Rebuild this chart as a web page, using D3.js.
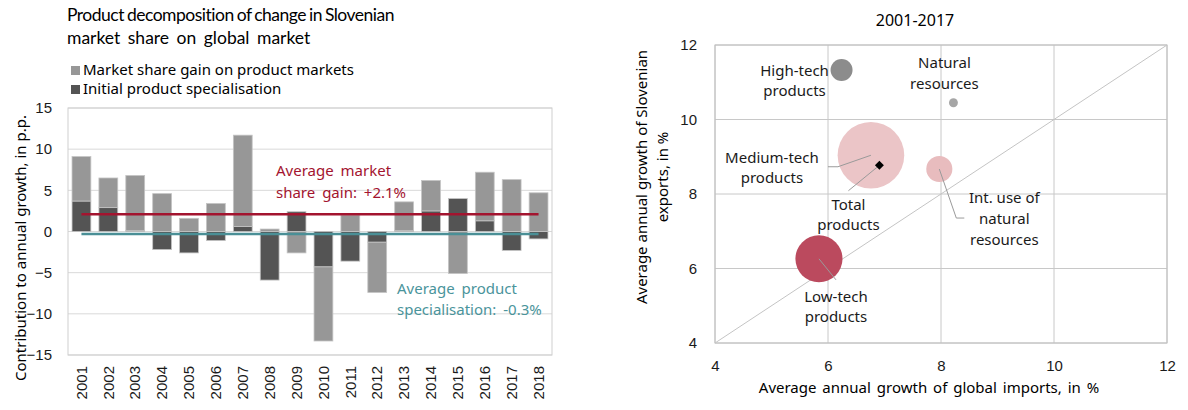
<!DOCTYPE html>
<meta charset="utf-8">
<style>
    body { margin: 0; background: white; }
    svg { display: block; font-family: "Noto Sans", "Open Sans", sans-serif; }
    .tick text { fill: #1a1a1a; }
</style>
<svg width="1188" height="410"></svg>
<script src="https://d3js.org/d3.v7.min.js"></script>
<script>
    // left chart data
    var years = ["2001", "2002", "2003", "2004", "2005", "2006", "2007", "2008", "2009",
        "2010", "2011", "2012", "2013", "2014", "2015", "2016", "2017", "2018"];
    var shareGain = [5.4, 3.6, 6.7, 4.6, 1.6, 3.4, 11.1, 0.3, -2.6, -9.0, 2.0, -6.1, 3.5, 3.7, -5.1, 5.9, 6.3, 4.7];
    var initialSpec = [3.7, 2.9, 0.1, -2.2, -2.6, -1.1, 0.6, -5.9, 2.4, -4.3, -3.6, -1.3, 0.1, 2.5, 4.0, 1.3, -2.3, -0.9];
    var avgGain = 2.1,
        avgSpec = -0.3;
    var leftTicks = [-15, -10, -5, 0, 5, 10, 15];

    // right chart data
    var groups = ["High-tech products", "Natural resources", "Medium-tech products",
        "Int. use of natural resources", "Low-tech products"];
    var importGrowth = [6.24, 8.22, 6.76, 7.97, 5.84];
    var exportGrowth = [11.33, 10.45, 9.04, 8.67, 6.26];
    var exportShare = [6.1, 1.0, 56, 8.6, 28];
    var totalPoint = [6.91, 8.77];
    var rightTicks = [4, 6, 8, 10, 12];

    var svg = d3.select("svg");

    // ---------- left chart ----------
    var x = d3.scaleBand().domain(years).range([68, 552]).paddingInner(0.3).paddingOuter(0.15);
    var y = d3.scaleLinear().domain([-15, 15]).range([355, 108]);

    var left = svg.append("g");

    left.append("text")
        .attr("x", 67).attr("y", 21)
        .style("font-family", "Lato, sans-serif")
        .style("font-size", "17.5px")
        .style("letter-spacing", "-0.5px")
        .style("word-spacing", "-1px")
        .text("Product decomposition of change in Slovenian");
    left.append("text")
        .attr("x", 67).attr("y", 44)
        .style("font-family", "Lato, sans-serif")
        .style("font-size", "17.5px")
        .style("word-spacing", "3px")
        .text("market share on global market");

    var legend = [["Market share gain on product markets", "#979797"], ["Initial product specialisation", "#545454"]];
    legend.forEach(function(d, i) {
        left.append("rect")
            .attr("x", 71).attr("y", 66 + i * 19)
            .attr("width", 9).attr("height", 9)
            .style("fill", d[1]);
        left.append("text")
            .attr("x", 83).attr("y", 75 + i * 19)
            .style("font-size", "15px")
            .text(d[0]);
    });

    left.selectAll(".grid")
        .data(leftTicks)
        .enter().append("line")
        .attr("x1", 68).attr("x2", 552)
        .attr("y1", function(d) { return y(d); })
        .attr("y2", function(d) { return y(d); })
        .style("stroke", "#d9d9d9");

    left.append("rect")
        .attr("x", 68).attr("y", 108)
        .attr("width", 484).attr("height", 247)
        .style("fill", "none")
        .style("stroke", "#cfcfcf");

    left.append("g")
        .attr("transform", "translate(68,0)")
        .call(d3.axisLeft(y).tickValues(leftTicks).tickSize(0).tickPadding(16))
        .call(function(g) { g.select(".domain").remove(); })
        .selectAll("text").style("font-size", "15px");

    left.append("g")
        .attr("transform", "translate(0,366)")
        .call(d3.axisBottom(x).tickSize(0))
        .call(function(g) { g.select(".domain").remove(); })
        .selectAll("text")
        .style("font-size", "15px")
        .style("text-anchor", "end")
        .attr("transform", "rotate(-90)")
        .attr("x", 0).attr("y", 0).attr("dy", "0.35em");

    left.append("text")
        .attr("transform", "translate(26,248) rotate(-90)")
        .style("text-anchor", "middle")
        .style("font-size", "15px")
        .text("Contribution  to  annual  growth,  in  p.p.");

    var rows = years.map(function(yr, i) {
        return { year: yr, spec: initialSpec[i], gain: shareGain[i] };
    });
    var stack = d3.stack().keys(["spec", "gain"]).offset(d3.stackOffsetDiverging)(rows);
    var barColor = { spec: "#545454", gain: "#979797" };

    left.selectAll(".series")
        .data(stack)
        .enter().append("g")
        .style("fill", function(d) { return barColor[d.key]; })
        .selectAll("rect")
        .data(function(d) { return d; })
        .enter().append("rect")
        .attr("x", function(d) { return x(d.data.year); })
        .attr("width", x.bandwidth())
        .attr("y", function(d) { return y(Math.max(d[0], d[1])); })
        .attr("height", function(d) { return Math.abs(y(d[0]) - y(d[1])); })
        .style("stroke", "#c4c4c4")
        .style("stroke-width", 0.8);

    var xFirst = x(years[0]) + x.bandwidth() / 2,
        xLast = x(years[years.length - 1]) + x.bandwidth() / 2;

    left.append("line")
        .attr("x1", xFirst).attr("x2", xLast)
        .attr("y1", y(avgGain)).attr("y2", y(avgGain))
        .style("stroke", "#a3142f").style("stroke-width", 2.5);
    left.append("line")
        .attr("x1", xFirst).attr("x2", xLast)
        .attr("y1", y(avgSpec)).attr("y2", y(avgSpec))
        .style("stroke", "#4a8f96").style("stroke-width", 2.5);

    left.append("text")
        .attr("x", 276).attr("y", 176)
        .style("fill", "#a3142f").style("font-size", "15px").style("word-spacing", "3px")
        .text("Average market");
    left.append("text")
        .attr("x", 276).attr("y", 198)
        .style("fill", "#a3142f").style("font-size", "15px").style("word-spacing", "3px")
        .text("share gain: +2.1%");

    left.append("text")
        .attr("x", 397).attr("y", 294)
        .style("fill", "#4a949b").style("font-size", "15px").style("word-spacing", "3px")
        .text("Average product");
    left.append("text")
        .attr("x", 397).attr("y", 315)
        .style("fill", "#4a949b").style("font-size", "15px").style("word-spacing", "3px")
        .text("specialisation:  -0.3%");

    // ---------- right chart ----------
    var rx = d3.scaleLinear().domain([4, 12]).range([715, 1167]);
    var ry = d3.scaleLinear().domain([4, 12]).range([343, 45]);
    var rr = d3.scaleSqrt().domain([0, 56]).range([0, 33.3]);

    var right = svg.append("g");

    right.append("text")
        .attr("x", 915).attr("y", 26)
        .style("text-anchor", "middle")
        .style("font-size", "16px")
        .text("2001-2017");

    right.selectAll(".hgrid")
        .data(rightTicks)
        .enter().append("line")
        .attr("x1", 715).attr("x2", 1167)
        .attr("y1", function(d) { return ry(d); })
        .attr("y2", function(d) { return ry(d); })
        .style("stroke", "#c8c8c8");
    right.selectAll(".vgrid")
        .data(rightTicks)
        .enter().append("line")
        .attr("y1", 45).attr("y2", 343)
        .attr("x1", function(d) { return rx(d); })
        .attr("x2", function(d) { return rx(d); })
        .style("stroke", "#c8c8c8");

    right.append("rect")
        .attr("x", 715).attr("y", 45)
        .attr("width", 452).attr("height", 298)
        .style("fill", "none")
        .style("stroke", "#c0c0c0");

    right.append("line")
        .attr("x1", rx(4)).attr("y1", ry(4))
        .attr("x2", rx(12)).attr("y2", ry(12))
        .style("stroke", "#c4c4c4");

    right.append("g")
        .attr("transform", "translate(715,0)")
        .call(d3.axisLeft(ry).tickValues(rightTicks).tickSize(0).tickPadding(18))
        .call(function(g) { g.select(".domain").remove(); })
        .selectAll("text").style("font-size", "15px");

    right.append("g")
        .attr("transform", "translate(0,343)")
        .call(d3.axisBottom(rx).tickValues(rightTicks).tickSize(0).tickPadding(17))
        .call(function(g) { g.select(".domain").remove(); })
        .selectAll("text").style("font-size", "15px");

    right.append("text")
        .attr("x", 929).attr("y", 393)
        .style("text-anchor", "middle")
        .style("font-size", "15px")
        .style("word-spacing", "2px")
        .text("Average annual growth of global imports, in %");

    right.append("text")
        .attr("transform", "translate(647,177) rotate(-90)")
        .style("text-anchor", "middle")
        .style("font-size", "15px")
        .text("Average annual growth of Slovenian");
    right.append("text")
        .attr("transform", "translate(668,177) rotate(-90)")
        .style("text-anchor", "middle")
        .style("font-size", "15px")
        .text("exports, in %");

    var bubbleColor = ["#8c8c8c", "#a6a6a6", "#ebc5c7", "#e8bcbe", "#bb4a5e"];
    // label lines and leader lines, as offsets from the bubble centre
    var labelLayout = [
        { dx: -47, dy: [6, 26], lines: ["High-tech", "products"], leader: null },
        { dx: -9, dy: [-35, -14], lines: ["Natural", "resources"], leader: null },
        { dx: -99, dy: [8, 28], lines: ["Medium-tech", "products"], leader: [[-43, 11.5], [-33, 11.5], [0, 0]] },
        { dx: 65, dy: [34, 55, 76], lines: ["Int. use of", "natural", "resources"], leader: [[0, 0], [17, 49], [25, 49]] },
        { dx: 17, dy: [43, 63], lines: ["Low-tech", "products"], leader: [[0, 0], [17, 21]] }
    ];

    var bubbles = groups.map(function(g, i) {
        return { name: g, x: importGrowth[i], y: exportGrowth[i], share: exportShare[i], color: bubbleColor[i], label: labelLayout[i] };
    });

    right.selectAll(".bubble")
        .data(bubbles)
        .enter().append("circle")
        .attr("cx", function(d) { return rx(d.x); })
        .attr("cy", function(d) { return ry(d.y); })
        .attr("r", function(d) { return rr(d.share); })
        .style("fill", function(d) { return d.color; });

    var line = d3.line();
    bubbles.forEach(function(d) {
        var cx = rx(d.x), cy = ry(d.y), l = d.label;
        if (l.leader) {
            right.append("path")
                .attr("d", line(l.leader.map(function(p) { return [cx + p[0], cy + p[1]]; })))
                .style("fill", "none")
                .style("stroke", "#9a9a9a");
        }
        l.lines.forEach(function(t, j) {
            right.append("text")
                .attr("x", cx + l.dx).attr("y", cy + l.dy[j])
                .style("text-anchor", "middle")
                .style("font-size", "15px")
                .style("fill", "#1a1a1a")
                .text(t);
        });
    });

    // total products marker
    var tx = rx(totalPoint[0]), ty = ry(totalPoint[1]);
    right.append("path")
        .attr("d", line([[tx - 31, ty + 25.4], [tx, ty]]))
        .style("stroke", "#9a9a9a");
    right.append("path")
        .attr("d", d3.symbol(d3.symbolSquare, 40)())
        .attr("transform", "translate(" + tx + "," + ty + ") rotate(45)")
        .style("fill", "black");
    ["Total", "products"].forEach(function(t, j) {
        right.append("text")
            .attr("x", tx - 31).attr("y", ty + 45 + j * 20)
            .style("text-anchor", "middle")
            .style("font-size", "15px")
            .style("fill", "#1a1a1a")
            .text(t);
    });
</script>
